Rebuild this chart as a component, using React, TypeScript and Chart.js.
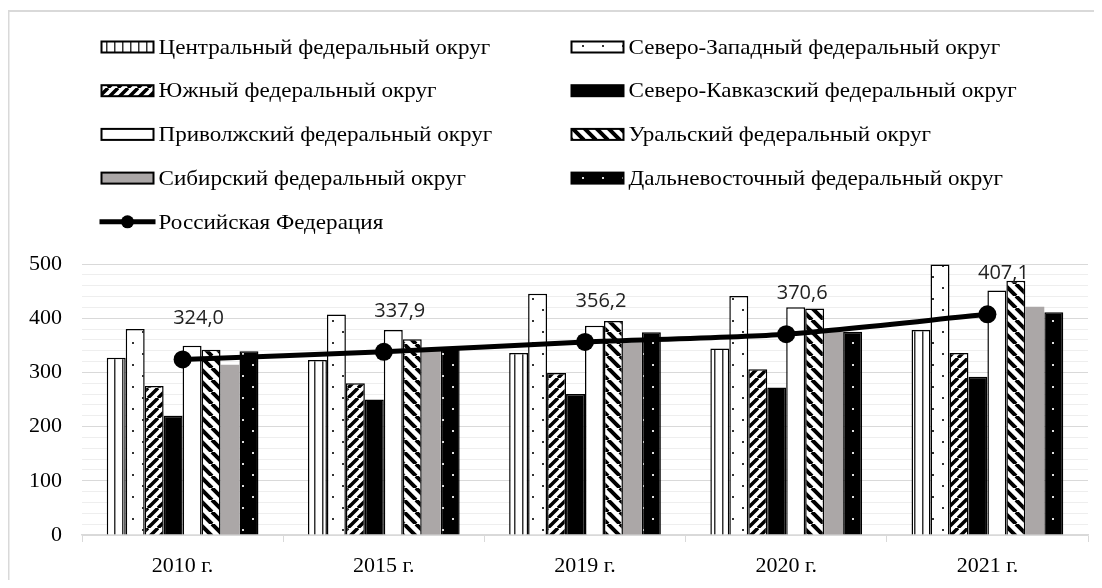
import React, { useEffect, useRef } from "react";
import { Chart, registerables } from "chart.js";

Chart.register(...registerables);

const categories = ["2010 г.", "2015 г.", "2019 г.", "2020 г.", "2021 г."];
const central = [327, 323, 336, 344, 378];
const northWest = [380, 407, 445, 441, 499];
const south = [275, 280, 299, 306, 336];
const northCaucasus = [220, 250, 260, 272, 292];
const volga = [349, 378, 386, 420, 451];
const ural = [342, 361, 395, 418, 469];
const siberia = [314, 340, 355, 375, 421];
const farEast = [339, 345, 374, 375, 411];
const russia = [324.0, 337.9, 356.2, 370.6, 407.1];

const seriesNames = [
  "Центральный федеральный округ",
  "Северо-Западный федеральный округ",
  "Южный федеральный округ",
  "Северо-Кавказский федеральный округ",
  "Приволжский федеральный округ",
  "Уральский федеральный округ",
  "Сибирский федеральный округ",
  "Дальневосточный федеральный округ",
  "Российская Федерация",
];

const yTickValues = [0, 100, 200, 300, 400, 500];

function makePattern(kind: string): CanvasPattern | string {
  const c = document.createElement("canvas");
  const ctx = c.getContext("2d")!;
  if (kind === "vertical") {
    c.width = 8; c.height = 8;
    ctx.fillStyle = "#fff"; ctx.fillRect(0, 0, 8, 8);
    ctx.fillStyle = "#333"; ctx.fillRect(2, 0, 1.5, 8);
  } else if (kind === "dotsWhite") {
    c.width = 20; c.height = 22;
    ctx.fillStyle = "#fff"; ctx.fillRect(0, 0, 20, 22);
    ctx.fillStyle = "#333";
    ctx.fillRect(4, 4, 2, 2);
    ctx.fillRect(14, 15, 2, 2);
  } else if (kind === "dotsBlack") {
    c.width = 20; c.height = 22;
    ctx.fillStyle = "#000"; ctx.fillRect(0, 0, 20, 22);
    ctx.fillStyle = "#ddd";
    ctx.fillRect(4, 4, 2, 2);
    ctx.fillRect(14, 15, 2, 2);
  } else if (kind === "up" || kind === "down") {
    const s = kind === "up" ? 10 : 12;
    c.width = s; c.height = s;
    ctx.fillStyle = "#fff"; ctx.fillRect(0, 0, s, s);
    ctx.strokeStyle = "#000"; ctx.lineWidth = kind === "up" ? 3.5 : 4;
    ctx.beginPath();
    if (kind === "up") {
      for (const o of [-s, 0, s]) { ctx.moveTo(o, s); ctx.lineTo(o + s, 0); }
    } else {
      for (const o of [-s, 0, s]) { ctx.moveTo(o, 0); ctx.lineTo(o + s, s); }
    }
    ctx.stroke();
  }
  const p = ctx.createPattern(c, "repeat");
  return p || "#fff";
}

export default function App() {
  const ref = useRef<HTMLCanvasElement | null>(null);

  useEffect(() => {
    const canvas = ref.current!;
    const fills = [
      makePattern("vertical"),
      makePattern("dotsWhite"),
      makePattern("up"),
      "#000",
      "#fff",
      makePattern("down"),
      "#aba7a7",
      makePattern("dotsBlack"),
    ];
    const values = [central, northWest, south, northCaucasus, volga, ural, siberia, farEast];
    const barSets = values.map((v, i) => ({
      type: "bar" as const,
      label: seriesNames[i],
      data: v,
      backgroundColor: fills[i],
      borderColor: i === 6 ? "#aba7a7" : "#000",
      borderWidth: i === 6 ? 0 : 1.5,
      categoryPercentage: 0.754,
      barPercentage: 1,
      order: 1,
    }));

    const legendPlugin = {
      id: "customLegend",
      afterDraw(chart: any) {
        const ctx = chart.ctx;
        ctx.save();
        // outer border
        ctx.strokeStyle = "#d9d9d9";
        ctx.lineWidth = 2;
        ctx.beginPath();
        ctx.moveTo(0.5, chart.height);
        ctx.lineTo(0.5, 3);
        ctx.lineTo(chart.width, 3);
        ctx.stroke();

        const colX = [93.5, 563.5];
        const rowY0 = 39;
        const rowH = 43.7;
        ctx.font = '22px "Liberation Serif", "Times New Roman", serif';
        ctx.textBaseline = "middle";
        ctx.textAlign = "left";
        seriesNames.forEach((name: string, idx: number) => {
          const col = idx % 2;
          const row = Math.floor(idx / 2);
          const x = colX[col];
          const y = rowY0 + row * rowH;
          if (idx < 8) {
            ctx.fillStyle = fills[idx];
            ctx.fillRect(x, y - 5.5, 52, 11);
            ctx.strokeStyle = "#000";
            ctx.lineWidth = 2;
            ctx.strokeRect(x, y - 5.5, 52, 11);
          } else {
            ctx.strokeStyle = "#000";
            ctx.lineWidth = 5;
            ctx.beginPath();
            ctx.moveTo(x - 2, y);
            ctx.lineTo(x + 54, y);
            ctx.stroke();
            ctx.fillStyle = "#000";
            ctx.beginPath();
            ctx.arc(x + 26, y, 6.5, 0, Math.PI * 2);
            ctx.fill();
          }
          ctx.fillStyle = "#000";
          ctx.save();
          ctx.translate(x + 57, y + 1);
          ctx.scale(1.05, 1);
          ctx.fillText(name, 0, 0);
          ctx.restore();
        });

        ctx.restore();
      },
      afterDatasetsDraw(chart: any) {
        const ctx = chart.ctx;
        const meta = chart.getDatasetMeta(8);
        ctx.save();
        ctx.font = '20px "Open Sans", sans-serif';
        ctx.fillStyle = "#222";
        ctx.textAlign = "center";
        ctx.textBaseline = "middle";
        meta.data.forEach((pt: any, i: number) => {
          const txt = russia[i].toFixed(1).replace(".", ",");
          ctx.fillText(txt, pt.x + 16, pt.y - 41);
        });
        ctx.restore();
      },
    };

    const chart = new Chart(canvas, {
      type: "bar",
      data: {
        labels: categories,
        datasets: [
          ...barSets,
          {
            type: "line" as const,
            label: seriesNames[8],
            data: russia,
            borderColor: "#000",
            backgroundColor: "#000",
            borderWidth: 5,
            pointRadius: 9,
            pointBackgroundColor: "#000",
            pointBorderWidth: 0,
            tension: 0.25,
            order: 0,
          } as any,
        ],
      },
      options: {
        animation: false,
        responsive: true,
        maintainAspectRatio: false,
        layout: { padding: { top: 256, right: 14, left: 0, bottom: 0 } },
        plugins: {
          legend: { display: false },
          tooltip: { enabled: false },
        },
        scales: {
          x: {
            grid: {
              display: true,
              drawOnChartArea: false,
              drawTicks: true,
              tickLength: 7,
              color: "#d9d9d9",
              offset: true,
            },
            border: { display: true, color: "#d9d9d9", width: 1.5 },
            ticks: {
              color: "#000",
              padding: 11,
              font: { family: '"Liberation Serif", serif', size: 22 },
            },
            afterFit(scale: any) { scale.height = 45; },
          },
          y: {
            min: 0,
            max: 500,
            ticks: {
              stepSize: 20,
              autoSkip: false,
              padding: 20,
              color: "#000",
              font: { family: '"Liberation Serif", serif', size: 22 },
              callback: (v: any) => (yTickValues.includes(Number(v)) ? String(v) : ""),
            },
            grid: {
              drawTicks: false,
              color: (c: any) => (c.tick && c.tick.value % 100 === 0 ? "#d9d9d9" : "#eeeeee"),
              lineWidth: 1,
            },
            border: { display: false },
            afterFit(scale: any) { scale.width = 74; },
          },
        },
      },
      plugins: [legendPlugin],
    });
    return () => chart.destroy();
  }, []);

  return (
    <div style={{ position: "relative", width: 1094, height: 572 }}>
      <canvas ref={ref} />
    </div>
  );
}
